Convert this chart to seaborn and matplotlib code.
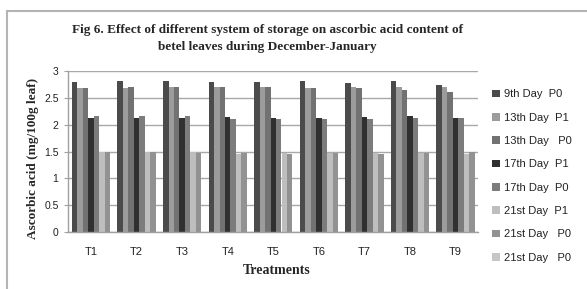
import matplotlib
matplotlib.use("Agg")
import matplotlib.pyplot as plt
from matplotlib.patches import Patch
from matplotlib.lines import Line2D
import seaborn as sns
import pandas as pd

treatments = ["T1", "T2", "T3", "T4", "T5", "T6", "T7", "T8", "T9"]
series_names = ["9th Day  P0", "13th Day  P1", "13th Day   P0", "17th Day  P1",
                "17th Day  P0", "21st Day  P1", "21st Day   P0", "21st Day   P0 "]
colors = ["#4b4b4b", "#9c9c9c", "#727272", "#303030", "#7c7c7c", "#bebebe", "#929292", "#c6c6c6"]

day9_p0 = [2.79, 2.80, 2.80, 2.79, 2.79, 2.81, 2.78, 2.81, 2.73]
day13_p1 = [2.68, 2.67, 2.69, 2.69, 2.69, 2.67, 2.69, 2.69, 2.69]
day13_p0 = [2.68, 2.70, 2.69, 2.69, 2.69, 2.67, 2.67, 2.65, 2.60]
day17_p1 = [2.13, 2.13, 2.13, 2.14, 2.13, 2.13, 2.14, 2.15, 2.13]
day17_p0 = [2.15, 2.16, 2.15, 2.11, 2.10, 2.10, 2.11, 2.13, 2.13]
day21_p1 = [1.49, 1.49, 1.49, 1.46, 1.48, 1.48, 1.48, 1.48, 1.46]
day21_p0 = [1.49, 1.49, 1.48, 1.48, 1.46, 1.48, 1.46, 1.48, 1.49]

series_values = [day9_p0, day13_p1, day13_p0, day17_p1, day17_p0, day21_p1, day21_p0]

rows = []
for name, vals in zip(series_names, series_values):
    for t, v in zip(treatments, vals):
        rows.append({"Treatment": t, "Series": name, "Value": v})
df = pd.DataFrame(rows)

sns.set_style("white")
plt.rcParams["font.family"] = ["Liberation Sans", "DejaVu Sans"]

fig = plt.figure(figsize=(5.87, 2.89), dpi=100)
ax = fig.add_axes([68.3 / 587, 1 - 232.3 / 289, (478.3 - 68.3) / 587, (232.3 - 70.7) / 289])

drawn = series_names[:len(series_values)]
sns.barplot(data=df, x="Treatment", y="Value", hue="Series", hue_order=drawn,
            order=treatments, palette=colors[:len(drawn)], width=0.84, gap=0,
            saturation=1, linewidth=0, legend=False, ax=ax, errorbar=None)

ax.set_ylim(0, 3)
ax.set_xlim(-0.5, len(treatments) - 0.5)
ax.set_yticks([0, 0.5, 1, 1.5, 2, 2.5, 3])
ax.set_yticklabels(["0", "0.5", "1", "1.5", "2", "2.5", "3"])
ax.yaxis.grid(True, color="#a8a8a8", linewidth=1)
ax.set_axisbelow(True)
for s in ["top", "right"]:
    ax.spines[s].set_visible(False)
for s in ["left", "bottom"]:
    ax.spines[s].set_color("#a0a0a0")
    ax.spines[s].set_linewidth(1)
ax.tick_params(axis="y", left=True, length=3, color="#a0a0a0", labelsize=7.5, pad=4, labelcolor="#222222")
ax.tick_params(axis="x", bottom=False, labelsize=8, pad=7, labelcolor="#222222")
ax.set_xlabel("")
ax.set_ylabel("")

serif = ["Liberation Serif", "DejaVu Serif"]
fig.text(33 / 587, 1 - 158 / 289, "Ascorbic acid (mg/100g leaf)", rotation=90,
         ha="center", va="center", family=serif, fontweight="bold", fontsize=9.5)
fig.text(277 / 587, 1 - 271 / 289, "Treatments", ha="center", va="center",
         family=serif, fontweight="bold", fontsize=10)
fig.text(267 / 587, 1 - 30 / 289, "Fig 6. Effect of different system of storage on ascorbic acid content of",
         ha="center", va="center", family=serif, fontweight="bold", fontsize=9.5)
fig.text(267 / 587, 1 - 47 / 289, "betel leaves during December-January",
         ha="center", va="center", family=serif, fontweight="bold", fontsize=9.5)

handles = [Patch(facecolor=c, edgecolor="none") for c in colors]
leg = fig.legend(handles, [n.rstrip() for n in series_names], loc="upper left",
                 bbox_to_anchor=(488 / 587, 1 - 85 / 289), frameon=False,
                 fontsize=8, handlelength=0.7, handleheight=0.7,
                 handletextpad=0.3, labelspacing=1.2, borderaxespad=0)
for t in leg.get_texts():
    t.set_color("#222222")

fig.add_artist(Line2D([7 / 587, 7 / 587], [0, 1 - 11 / 289], transform=fig.transFigure,
                      color="#b4b4b4", linewidth=1.5))
fig.add_artist(Line2D([7 / 587, 1], [1 - 11 / 289, 1 - 11 / 289], transform=fig.transFigure,
                      color="#b4b4b4", linewidth=1.5))

fig.savefig("out.png", dpi=100)
